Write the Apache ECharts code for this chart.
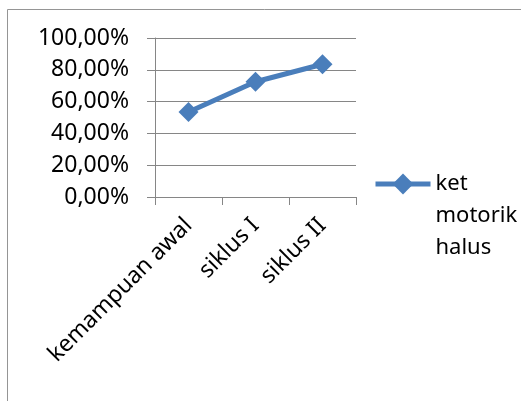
<!DOCTYPE html>
<html>
<head>
<meta charset="utf-8">
<script src="https://cdn.jsdelivr.net/npm/echarts@6/dist/echarts.min.js"></script>
<style>
html,body{margin:0;padding:0;background:#fff;}
#chart{width:521px;height:401px;}
</style>
</head>
<body>
<div id="chart"></div>
<script>
var categories = ['kemampuan awal', 'siklus I', 'siklus II']
var values = [0.535, 0.725, 0.835]
var seriesName = 'ket motorik halus'
var legendLines = ['ket', 'motorik', 'halus']

var myChart = echarts.init(document.getElementById('chart'))
var fontFamily = 'Noto Sans'

// 0.2 -> "20,00%"
function pct(v) {
	return (v * 100).toFixed(2).replace('.', ',') + '%'
}

var option = {
	animation: false,
	color: ['#4a7ebb'],
	graphic: [{
		type: 'rect',
		shape: { x: 7.5, y: 9.5, width: 700, height: 600 },
		style: { fill: 'none', stroke: '#959595', lineWidth: 1 }
	}],
	grid: {
		left: 155,
		right: 165,
		top: 38,
		bottom: 204
	},
	legend: {
		left: 373,
		top: 109,
		padding: 0,
		itemWidth: 55,
		itemHeight: 26,
		itemGap: 4,
		lineStyle: { width: 5 },
		// two blank lines on top so the icon sits level with "ket"
		formatter: function() {
			return '{s| }\n{s| }\n' + legendLines.map(function(t) {
				return '{a|' + t + '}'
			}).join('\n')
		},
		textStyle: {
			fontFamily: fontFamily,
			fontSize: 22,
			color: '#000',
			rich: {
				a: { fontFamily: fontFamily, fontSize: 22, color: '#000', lineHeight: 32 },
				s: { fontSize: 22, lineHeight: 32 }
			}
		}
	},
	xAxis: {
		type: 'category',
		data: categories,
		axisLine: { lineStyle: { color: '#868686', width: 1 } },
		axisTick: { show: true, length: 8, interval: 0, lineStyle: { color: '#868686' } },
		axisLabel: {
			rotate: 45,
			interval: 0,
			margin: 25,
			fontFamily: fontFamily,
			fontSize: 23,
			color: '#000'
		}
	},
	yAxis: {
		type: 'value',
		min: 0,
		max: 1,
		interval: 0.2,
		axisLine: { show: true, lineStyle: { color: '#868686', width: 1 } },
		axisTick: { show: true, length: 8, lineStyle: { color: '#868686' } },
		splitLine: { lineStyle: { color: '#868686', width: 1 } },
		axisLabel: {
			margin: 26,
			fontFamily: fontFamily,
			fontSize: 23,
			color: '#000',
			formatter: function(v) {
				return pct(v)
			}
		}
	},
	series: [{
		name: seriesName,
		type: 'line',
		data: values,
		symbol: 'diamond',
		symbolSize: 20,
		lineStyle: { width: 5 },
		itemStyle: { color: '#4a7ebb' }
	}]
}

myChart.setOption(option)
</script>
</body>
</html>
